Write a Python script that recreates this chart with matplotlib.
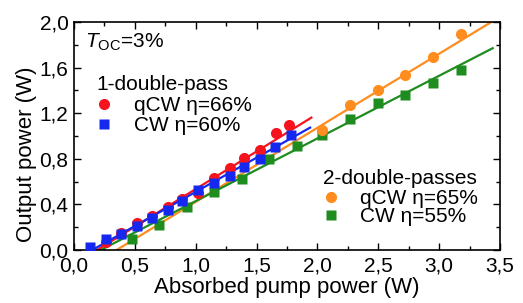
import numpy as np
import matplotlib
matplotlib.use("Agg")
import matplotlib.pyplot as plt
from matplotlib.ticker import MultipleLocator, FuncFormatter
from matplotlib.lines import Line2D

plt.rcParams['font.family'] = ['Liberation Sans', 'DejaVu Sans']
plt.rcParams['mathtext.fontset'] = 'custom'
plt.rcParams['mathtext.rm'] = 'Liberation Sans'
plt.rcParams['mathtext.it'] = 'Liberation Sans:italic'

# 1-double-pass data
x_1dp_cw = [0.13, 0.26, 0.39, 0.515, 0.64, 0.77, 0.89, 1.02, 1.15, 1.28, 1.40, 1.53, 1.65, 1.78]
y_1dp_cw = [0.03, 0.094, 0.14, 0.21, 0.28, 0.35, 0.43, 0.53, 0.59, 0.65, 0.73, 0.80, 0.90, 1.01]
x_1dp_qcw = [0.26, 0.39, 0.515, 0.64, 0.77, 0.89, 1.02, 1.15, 1.28, 1.40, 1.53, 1.66, 1.77]
y_1dp_qcw = [0.07, 0.15, 0.24, 0.30, 0.38, 0.45, 0.50, 0.63, 0.72, 0.81, 0.88, 1.03, 1.10]

# 2-double-passes data
x_2dp_cw = [0.48, 0.70, 0.93, 1.15, 1.38, 1.60, 1.83, 2.04, 2.27, 2.50, 2.72, 2.95, 3.18]
y_2dp_cw = [0.094, 0.22, 0.375, 0.51, 0.62, 0.80, 0.91, 1.01, 1.15, 1.29, 1.36, 1.47, 1.58]
x_2dp_qcw = [2.04, 2.27, 2.50, 2.72, 2.95, 3.18]
y_2dp_qcw = [1.05, 1.27, 1.40, 1.54, 1.69, 1.90]

# linear fits: slope, threshold, end of line
fit_slopes = [0.66, 0.60, 0.65, 0.55]
fit_thresholds = [0.19, 0.15, 0.35, 0.22]
fit_ends = [1.95, 1.94, 3.45, 3.44]

c_red = '#f5141e'
c_blue = '#1428f0'
c_orange = '#ff8c1e'
c_green = '#1e8c1e'
colors = [c_red, c_blue, c_orange, c_green]

fig = plt.figure(figsize=(5.23, 3.03), dpi=100)
ax = fig.add_axes([0.1415, 0.175, 0.8145, 0.752])

for s, t, e, c in zip(fit_slopes, fit_thresholds, fit_ends, colors):
    xs = np.array([t, e])
    ax.plot(xs, s * (xs - t), color=c, lw=1.6, zorder=2)

ax.plot(x_2dp_cw, y_2dp_cw, 's', color=c_green, ms=7, mec='none', zorder=3)
ax.plot(x_2dp_qcw, y_2dp_qcw, 'o', color=c_orange, ms=8, mec='none', zorder=3)
ax.plot(x_1dp_qcw, y_1dp_qcw, 'o', color=c_red, ms=8, mec='none', zorder=3)
ax.plot(x_1dp_cw, y_1dp_cw, 's', color=c_blue, ms=7, mec='none', zorder=4)

ax.set_xlim(0, 3.5)
ax.set_ylim(0, 2.0)
ax.xaxis.set_major_locator(MultipleLocator(0.5))
ax.xaxis.set_minor_locator(MultipleLocator(0.25))
ax.yaxis.set_major_locator(MultipleLocator(0.4))
ax.yaxis.set_minor_locator(MultipleLocator(0.2))
comma = FuncFormatter(lambda v, p: f"{v:.1f}".replace('.', ','))
ax.xaxis.set_major_formatter(comma)
ax.yaxis.set_major_formatter(comma)
ax.tick_params(which='both', direction='in', top=True, right=True, labelsize=15, width=1)
ax.tick_params(which='major', length=5)
ax.tick_params(axis='x', which='major', pad=5)
ax.tick_params(axis='y', which='major', pad=4)
ax.tick_params(which='minor', length=3)
for sp in ax.spines.values():
    sp.set_linewidth(1.2)

ax.set_xlabel('Absorbed pump power (W)', fontsize=16)
ax.set_ylabel('Output power (W)', fontsize=16)
ax.xaxis.set_label_coords(0.5, -0.12)
ax.yaxis.set_label_coords(-0.088, 0.42)

ax.text(0.026, 0.91, r'$T_{\mathrm{OC}}$=3%', transform=ax.transAxes, fontsize=15, va='center')

h1 = [Line2D([], [], marker='o', ls='none', color=c_red, ms=8, mec='none'),
      Line2D([], [], marker='s', ls='none', color=c_blue, ms=7, mec='none')]
leg1 = ax.legend(h1, ['qCW η=66%', 'CW η=60%'], title='1-double-pass',
                 loc='upper left', bbox_to_anchor=(0.052, 0.77), frameon=False,
                 fontsize=15, title_fontsize=15, alignment='left',
                 handlelength=0.8, handletextpad=1.0, labelspacing=0.05,
                 borderpad=0, borderaxespad=0)
leg1._legend_box.sep = 2
ax.add_artist(leg1)

h2 = [Line2D([], [], marker='o', ls='none', color=c_orange, ms=8, mec='none'),
      Line2D([], [], marker='s', ls='none', color=c_green, ms=7, mec='none')]
leg2 = ax.legend(h2, ['qCW η=65%', 'CW η=55%'], title='2-double-passes',
                 loc='upper left', bbox_to_anchor=(0.584, 0.355), frameon=False,
                 fontsize=15, title_fontsize=15, alignment='left',
                 handlelength=0.8, handletextpad=1.0, labelspacing=-0.05,
                 borderpad=0, borderaxespad=0)
leg2._legend_box.sep = 1

fig.savefig('out.png', dpi=100)
